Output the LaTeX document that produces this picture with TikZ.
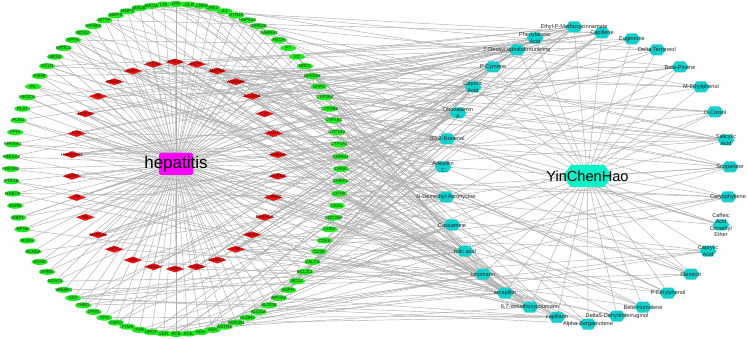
\documentclass[tikz,border=0pt]{standalone}
\usepackage{fontspec}
\setmainfont{Liberation Sans}
\usetikzlibrary{shapes.geometric,shapes.symbols,backgrounds}
\definecolor{genegreen}{RGB}{30,235,30}
\definecolor{hubred}{RGB}{235,20,20}
\definecolor{hepmag}{RGB}{255,0,255}
\definecolor{cpdcyan}{RGB}{20,208,204}
\definecolor{herbcyan}{RGB}{10,240,200}
\definecolor{edgegray}{RGB}{175,175,175}
\newcommand\genefont{\fontsize{4.5}{5}\selectfont}
\newcommand\hubfont{\fontsize{4.3}{4.6}\selectfont}
\newcommand\cpdfont{\fontsize{5.6}{6.3}\selectfont}
\begin{document}
\begin{tikzpicture}[x=1pt,y=1pt,
  gene/.style={ellipse, fill=genegreen, minimum width=16pt, minimum height=6pt, inner sep=0pt},
  hub/.style={diamond, fill=hubred, minimum width=19pt, minimum height=7pt, inner sep=0pt},
  cpd/.style={signal, signal to=east and west, signal pointer angle=110, fill=cpdcyan, minimum width=17pt, minimum height=11pt, inner sep=0pt},
  herb/.style={signal, signal to=east and west, signal pointer angle=110, fill=herbcyan, minimum width=49pt, minimum height=22pt, inner sep=0pt},
  disease/.style={rectangle, rounded corners=1.5pt, fill=hepmag, minimum width=34pt, minimum height=22pt, inner sep=0pt},
  genelbl/.style={font=\genefont, text=black!85, inner sep=0pt},
  hublbl/.style={font=\hubfont, text=black!75!red, inner sep=0pt},
  cpdlbl/.style={font=\cpdfont, text=black!85, align=center, inner sep=0pt},
  edge/.style={draw=edgegray, line width=0.45pt},
]
\useasboundingbox (0,0) rectangle (748,338);

% target genes (outer ring)
\foreach \nm [count=\k] in {ABCB1,ACE,ADA,ADK,AGTR1,AKR1B1,ALDH2,ALDOA,ALDOB,APOA2,
  ASPH,BCL2,BCL2L1,CALCA,CD38,CDK6,CDK2,CDC25A,CES1,CFTR,
  CHEK1,CHUK,CHRM1,CYP1A1,CYP1A2,CYP1B1,CYP2B6,CYP3A4,DPP4,DHODH,
  DRD1,F2,F7,FECH,GABRA1,GRIN2A,HSPA1A,HTR2A,IL2,JAK2,
  KCNH2,LDLR,LPA,LTA,MAOA,MAOB,MMP2,MMP9,MTTP,NFKBIA,
  NOS2,NPPA,NR3C1,NR1I2,OCLN,P4HB,PC,PIK3CG,PLAT,PLAU,
  PPIA,PRKAA1,PRKAA2,PRKAB1,PTK2B,RAB7A,RARB,RBP1,RPS6,RXRA,
  SCN5A,SDHD,SHBG,SOAT2,SREBF1,SST,THBD,TPMT,TPO,TSPO,
  TYMS,TYR,UROD,VDR}{
  \pgfmathsetmacro{\ang}{-90+(\k-1)*4.285714}
  \node[gene, label={[genelbl]center:\nm}] (t\k) at ([shift={(176,169)}]\ang:165) {};
}

% hub targets (inner ring)
\foreach \nm [count=\k from 85] in {PTGS2,PTGS1,ESR1,PPARG,AR,NCOA2,PGR,HSP90AA1,CASP3,TNF,
  IL6,MAPK14,AKT1,JUN,RELA,MMP1,CCND1,HMOX1,IL1B,NOS3,
  PRKACA,CHRM2,ADRB2,GSK3B,ACHE,CA2,SLC6A4,ADRA2A,MAPK1,EGFR}{
  \pgfmathsetmacro{\ang}{90+(\k-85)*12}
  \node[hub, label={[hublbl]center:\nm}] (t\k) at ([shift={(175,172.5)}]\ang:103.5) {};
}

% compounds
\foreach \nm/\px/\py [count=\j from 0] in {{Alpha-Bergamotene}/588/324,{Delta5-Dehydroferruginol}/617/316,
  {Beta-Humulene}/643/307,{P-Ethylphenol}/668/293,{Elemicin}/691/274,
  {Caprylic\\Acid}/708/251,{Caffeic\\Acid\\Dimethyl\\Ether}/721/225,{Caryophyllene}/728/197,
  {Scoparone}/730/167,{Salicylic\\Acid}/726/140,
  {O-Cresol}/715/112,{M-Ethylphenol}/701/87,{Beta-Pinene}/680/67,{Delta-Terpineol}/657/50,{Eugenone}/632/39,
  {Capillene}/602/33,{Ethyl-P-Methoxycinnamate}/574/27,{Phenylacetic\\Acid}/535/38,
  {7-Deoxycephalofortunerine}/517/50,{P-Cymene}/493/67,
  {Caproic\\Acid}/473/87,{Obovatamin\\A}/458/113,{(E)-2-Nonenal}/447/139,{Artepillin\\C}/443/167,
  {N-Demethyl-Acronycine}/446/197,
  {Cassamine}/452/225,{folic acid}/465/251,{cirsimarin}/483/274,{arcapillin}/505/293,
  {6,7-dimethoxycoumarin}/530/307,{capillarin}/557/317}{
  \node[cpd, label={[cpdlbl]center:\nm}] (c\j) at (\px,{338-\py}) {};
}

\node[disease, label={[font=\fontsize{17}{17}\selectfont, inner sep=0pt]center:hepatitis}] (hep) at (176,174) {};
\node[herb, label={[font=\fontsize{14.6}{15}\selectfont, inner sep=0pt]center:YinChenHao}] (ych) at (587.5,162) {};

\begin{pgfonlayer}{background}
\fill[white] (0,0) rectangle (748,338);
\foreach \k in {1,...,114} \draw[edge] (hep) -- (t\k);
\foreach \j in {0,...,30} \draw[edge] (ych) -- (c\j);
\pgfmathsetseed{7}
\foreach \j/\d in {0/4,1/4,2/4,3/5,4/6,5/5,6/4,7/6,8/7,9/8,10/5,11/4,12/6,13/4,14/3,
  15/10,16/10,17/9,18/10,19/8,20/10,21/14,22/12,23/14,24/12,25/12,26/12,27/14,28/14,29/12,30/10}{
  \foreach \e in {1,...,\d}{
    \pgfmathrandominteger{\tg}{1}{144}
    \pgfmathtruncatemacro{\tg}{\tg>114 ? \tg-30 : \tg}
    \draw[edge] (c\j) -- (t\tg);
  }
}
\end{pgfonlayer}
\end{tikzpicture}
\end{document}
